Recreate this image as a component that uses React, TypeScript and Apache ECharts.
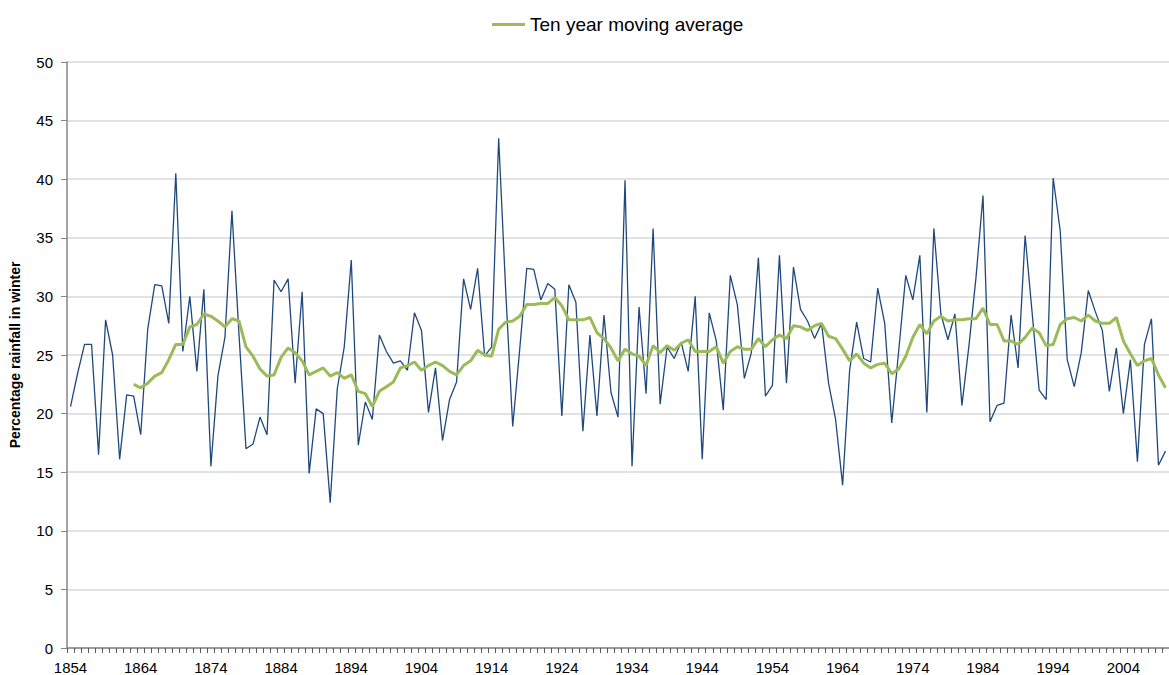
import React, { useEffect, useRef } from "react";
import * as echarts from "echarts";

const START_YEAR = 1854;
const END_YEAR = 2010;
const years: string[] = [];
for (let y = START_YEAR; y <= END_YEAR; y++) years.push(String(y));

// Winter rainfall percentage per year (1854-2010)
const winterRainfall: number[] = [
  20.6, 23.4, 25.9, 25.9, 16.5, 28.0, 25.0, 16.1, 21.6, 21.5,
  18.2, 27.2, 31.0, 30.9, 27.7, 40.5, 25.3, 30.0, 23.6, 30.6,
  15.5, 23.2, 26.5, 37.3, 26.8, 17.0, 17.4, 19.7, 18.2, 31.4,
  30.4, 31.5, 22.6, 30.4, 14.9, 20.4, 20.0, 12.4, 22.1, 25.7,
  33.1, 17.3, 21.0, 19.5, 26.7, 25.3, 24.3, 24.5, 23.7, 28.6,
  27.1, 20.1, 23.9, 17.7, 21.2, 22.7, 31.5, 28.9, 32.4, 24.9,
  25.7, 43.5, 30.5, 18.9, 25.5, 32.4, 32.3, 29.7, 31.1, 30.6,
  19.8, 31.0, 29.5, 18.5, 26.7, 19.8, 28.4, 21.8, 19.7, 39.9,
  15.5, 29.1, 21.7, 35.8, 20.8, 25.7, 24.7, 26.1, 23.6, 30.0,
  16.1, 28.6, 26.2, 20.3, 31.8, 29.3, 23.0, 25.2, 33.3, 21.5,
  22.4, 33.5, 22.6, 32.5, 28.9, 27.9, 26.4, 27.7, 22.6, 19.5,
  13.9, 23.7, 27.8, 24.7, 24.4, 30.7, 27.7, 19.2, 25.4, 31.8,
  29.7, 33.5, 20.1, 35.8, 28.5, 26.3, 28.5, 20.7, 25.8, 31.6,
  38.6, 19.3, 20.7, 20.9, 28.4, 23.9, 35.2, 28.6, 22.0, 21.2,
  40.1, 35.6, 24.6, 22.3, 25.2, 30.5, 28.7, 27.1, 21.9, 25.6,
  20.0, 24.6, 15.9, 25.9, 28.1, 15.6, 16.8,
];

// Ten year moving average (first nine years have no value)
const movingAverage: (number | null)[] = [
  null, null, null, null, null, null, null, null, null, 22.5,
  22.2, 22.6, 23.2, 23.5, 24.6, 25.9, 25.9, 27.4, 27.6, 28.5,
  28.3, 27.9, 27.4, 28.1, 27.9, 25.7, 24.9, 23.8, 23.2, 23.3,
  24.8, 25.6, 25.2, 24.5, 23.3, 23.6, 23.9, 23.2, 23.5, 23.0,
  23.3, 21.9, 21.7, 20.6, 21.9, 22.3, 22.7, 23.9, 24.1, 24.4,
  23.7, 24.1, 24.4, 24.1, 23.6, 23.3, 24.1, 24.5, 25.4, 25.0,
  24.9, 27.2, 27.8, 27.9, 28.3, 29.3, 29.3, 29.4, 29.4, 29.9,
  29.2, 28.0, 28.0, 28.0, 28.2, 26.9, 26.4, 25.6, 24.5, 25.5,
  25.1, 24.9, 24.1, 25.8, 25.2, 25.8, 25.4, 26.0, 26.3, 25.3,
  25.3, 25.3, 25.7, 24.3, 25.3, 25.7, 25.5, 25.5, 26.4, 25.7,
  26.3, 26.7, 26.4, 27.5, 27.4, 27.1, 27.5, 27.7, 26.6, 26.4,
  25.5, 24.5, 25.1, 24.3, 23.9, 24.2, 24.3, 23.4, 23.8, 24.9,
  26.5, 27.6, 26.8, 27.9, 28.3, 27.9, 28.0, 28.0, 28.1, 28.1,
  29.0, 27.6, 27.6, 26.2, 26.2, 25.9, 26.5, 27.3, 26.9, 25.8,
  25.9, 27.6, 28.1, 28.2, 27.9, 28.4, 27.9, 27.7, 27.7, 28.2,
  26.2, 25.1, 24.1, 24.5, 24.7, 23.3, 22.2,
];

const Y_MIN = 0;
const Y_MAX = 50;
const Y_STEP = 5;

const SERIES_RAIN = "Percentage rainfall in winter";
const SERIES_MA = "Ten year moving average";

export default function App() {
  const ref = useRef<HTMLDivElement>(null);

  useEffect(() => {
    document.body.style.margin = "0";
    if (!ref.current) return;
    const chart = echarts.init(ref.current, undefined, { renderer: "svg" });
    const font = "Liberation Sans, Arial, sans-serif";
    chart.setOption({
      animation: false,
      backgroundColor: "#ffffff",
      textStyle: { fontFamily: font },
      legend: {
        data: [SERIES_MA],
        left: 487,
        top: 10,
        icon: "rect",
        itemWidth: 33,
        itemHeight: 3,
        itemGap: 5,
        textStyle: { fontSize: 19, color: "#000000", fontFamily: font },
      },
      grid: { left: 67, right: 0, top: 62, bottom: 27, containLabel: false },
      xAxis: {
        type: "category",
        data: years,
        boundaryGap: true,
        axisLine: { lineStyle: { color: "#868686", width: 1.5 } },
        axisTick: { show: true, interval: 0, length: 5, lineStyle: { color: "#595959", width: 1 } },
        axisLabel: { interval: 9, fontSize: 15, color: "#000000", margin: 12, fontFamily: font },
        splitLine: { show: false },
      },
      yAxis: {
        type: "value",
        min: Y_MIN,
        max: Y_MAX,
        interval: Y_STEP,
        name: SERIES_RAIN,
        nameLocation: "middle",
        nameGap: 45,
        nameTextStyle: { fontSize: 14, fontWeight: "bold", color: "#000000", fontFamily: font },
        axisLine: { show: true, lineStyle: { color: "#868686", width: 1.5 } },
        axisTick: { show: true, length: 6, lineStyle: { color: "#868686" } },
        axisLabel: { fontSize: 15, color: "#000000", margin: 14, fontFamily: font },
        splitLine: { show: true, lineStyle: { color: "#d9d9d9", width: 1.5 } },
      },
      series: [
        {
          name: SERIES_RAIN,
          type: "line",
          data: winterRainfall,
          showSymbol: false,
          symbol: "none",
          lineStyle: { color: "#1F497D", width: 1.3 },
          itemStyle: { color: "#1F497D" },
          z: 2,
        },
        {
          name: SERIES_MA,
          type: "line",
          data: movingAverage,
          showSymbol: false,
          symbol: "none",
          connectNulls: false,
          lineStyle: { color: "#9BBB59", width: 3 },
          itemStyle: { color: "#9BBB59" },
          z: 3,
        },
      ],
    });
    return () => chart.dispose();
  }, []);

  return <div ref={ref} style={{ width: 1169, height: 675 }} />;
}
